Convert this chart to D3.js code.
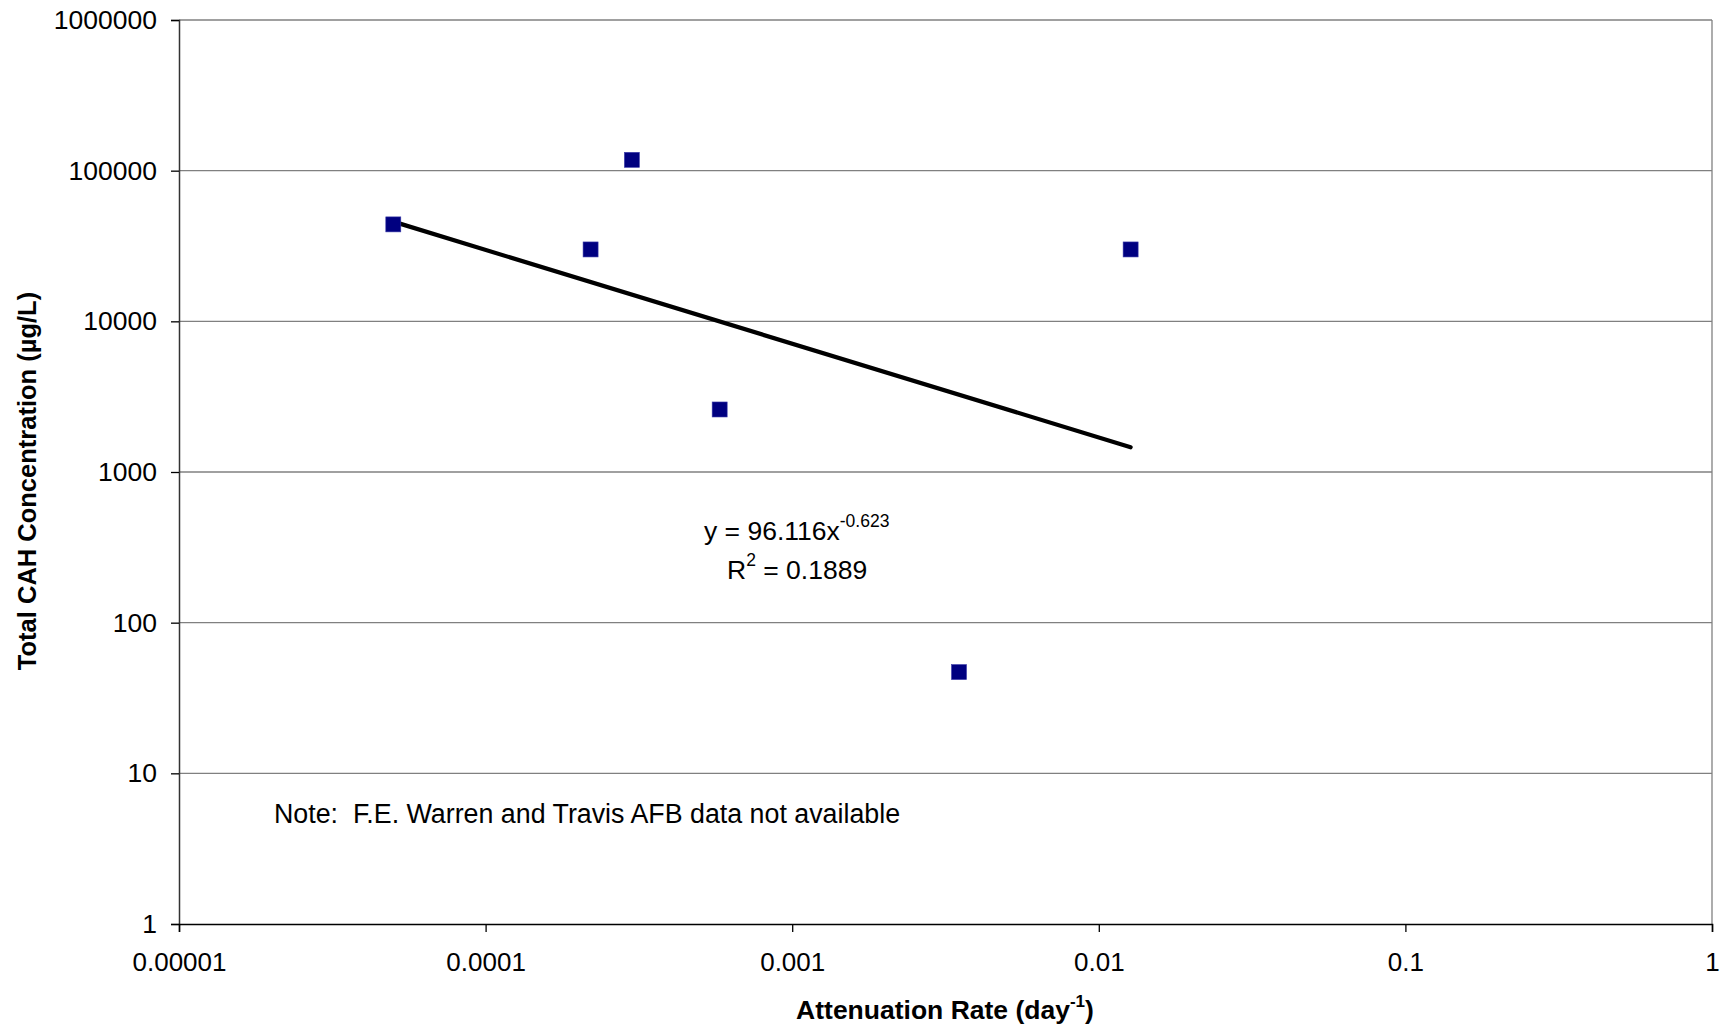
<!DOCTYPE html>
<html>
<head>
<meta charset="utf-8">
<script src="https://cdn.jsdelivr.net/npm/d3@7"></script>
<style>
  html, body { margin: 0; padding: 0; background: #fff; }
  svg { display: block; font-family: "Liberation Sans", Arial, sans-serif; }
</style>
</head>
<body>
<svg id="chart" width="1720" height="1031"></svg>
<script>
// ---- data ----
const rates = [5.0e-5, 2.2e-4, 3.0e-4, 5.8e-4, 3.5e-3, 1.27e-2];        // day^-1
const concentrations = [44000, 30000, 118000, 2600, 47, 30000];          // µg/L
const trendX = [5.0e-5, 1.27e-2];
const trendY = [45900, 1460];
const xTicks = [0.00001, 0.0001, 0.001, 0.01, 0.1, 1];
const xTickLabels = ["0.00001", "0.0001", "0.001", "0.01", "0.1", "1"];
const yTicks = [1, 10, 100, 1000, 10000, 100000, 1000000];
const yTickLabels = ["1", "10", "100", "1000", "10000", "100000", "1000000"];

// ---- layout ----
const svg = d3.select("#chart");
const L = 179, R = 1712, T = 20, B = 924;
const FS = 26.5;

const x = d3.scaleLog().domain([1e-5, 1]).range([L, R]);
const y = d3.scaleLog().domain([1, 1e6]).range([B, T]);

// gridlines
svg.append("g")
  .selectAll("line")
  .data(yTicks.filter(v => v > 1))
  .join("line")
  .attr("x1", L).attr("x2", R)
  .attr("y1", d => y(d)).attr("y2", d => y(d))
  .attr("stroke", "#808080").attr("stroke-width", 1.3);

// right border
svg.append("line").attr("x1", R).attr("x2", R).attr("y1", T).attr("y2", B)
  .attr("stroke", "#808080").attr("stroke-width", 1.3);

// y axis
const yAxis = d3.axisLeft(y).tickValues(yTicks)
  .tickFormat((d, i) => yTickLabels[i]).tickSize(8).tickPadding(14);
const gy = svg.append("g").attr("transform", `translate(${L},0)`).call(yAxis);
gy.select(".domain").attr("stroke", "#333").attr("stroke-width", 1.5);
gy.selectAll(".tick line").attr("stroke", "#000").attr("stroke-width", 1.3);
gy.selectAll("text").attr("font-size", FS).attr("fill", "#000")
  .attr("font-family", "Liberation Sans, Arial, sans-serif");

// x axis
const xAxis = d3.axisBottom(x).tickValues(xTicks)
  .tickFormat((d, i) => xTickLabels[i]).tickSize(8).tickPadding(21);
const gx = svg.append("g").attr("transform", `translate(0,${B})`).call(xAxis);
gx.select(".domain").attr("stroke", "#000").attr("stroke-width", 1.5);
gx.selectAll(".tick line").attr("stroke", "#000").attr("stroke-width", 1.3);
gx.selectAll("text").attr("font-size", 26).attr("fill", "#000")
  .attr("font-family", "Liberation Sans, Arial, sans-serif");

// trendline
svg.append("path")
  .datum(trendX.map((v, i) => [v, trendY[i]]))
  .attr("d", d3.line().x(d => x(d[0])).y(d => y(d[1])))
  .attr("fill", "none").attr("stroke", "#000").attr("stroke-width", 4.2)
  .attr("stroke-linecap", "round");

// markers
const ms = 15;
svg.append("g")
  .selectAll("rect")
  .data(rates.map((v, i) => [v, concentrations[i]]))
  .join("rect")
  .attr("x", d => x(d[0]) - ms / 2)
  .attr("y", d => y(d[1]) - ms / 2)
  .attr("width", ms).attr("height", ms)
  .attr("fill", "#000080").attr("stroke", "#3a3aa8").attr("stroke-width", 0.6);

// equation text
const eq = svg.append("text").attr("x", 704).attr("y", 540)
  .attr("font-size", FS).attr("fill", "#000");
eq.append("tspan").text("y = 96.116x");
eq.append("tspan").attr("dy", -13).attr("font-size", 17.5).text("-0.623");

const r2 = svg.append("text").attr("x", 727).attr("y", 579)
  .attr("font-size", FS).attr("fill", "#000");
r2.append("tspan").text("R");
r2.append("tspan").attr("dy", -13).attr("font-size", 17.5).text("2");
r2.append("tspan").attr("dy", 13).text(" = 0.1889");

// note
svg.append("text").attr("x", 274).attr("y", 823)
  .attr("font-size", 26.8).attr("fill", "#000")
  .attr("xml:space", "preserve")
  .text("Note:  F.E. Warren and Travis AFB data not available");

// x axis title
const xt = svg.append("text").attr("x", 945).attr("y", 1019)
  .attr("text-anchor", "middle").attr("font-size", FS).attr("font-weight", "bold").attr("fill", "#000");
xt.append("tspan").text("Attenuation Rate (day");
xt.append("tspan").attr("dy", -12).attr("font-size", 17).text("-1");
xt.append("tspan").attr("dy", 12).text(")");

// y axis title
svg.append("text")
  .attr("transform", "translate(36,481) rotate(-90)")
  .attr("text-anchor", "middle").attr("font-size", 25.5).attr("font-weight", "bold").attr("fill", "#000")
  .text("Total CAH Concentration (µg/L)");
</script>
</body>
</html>
